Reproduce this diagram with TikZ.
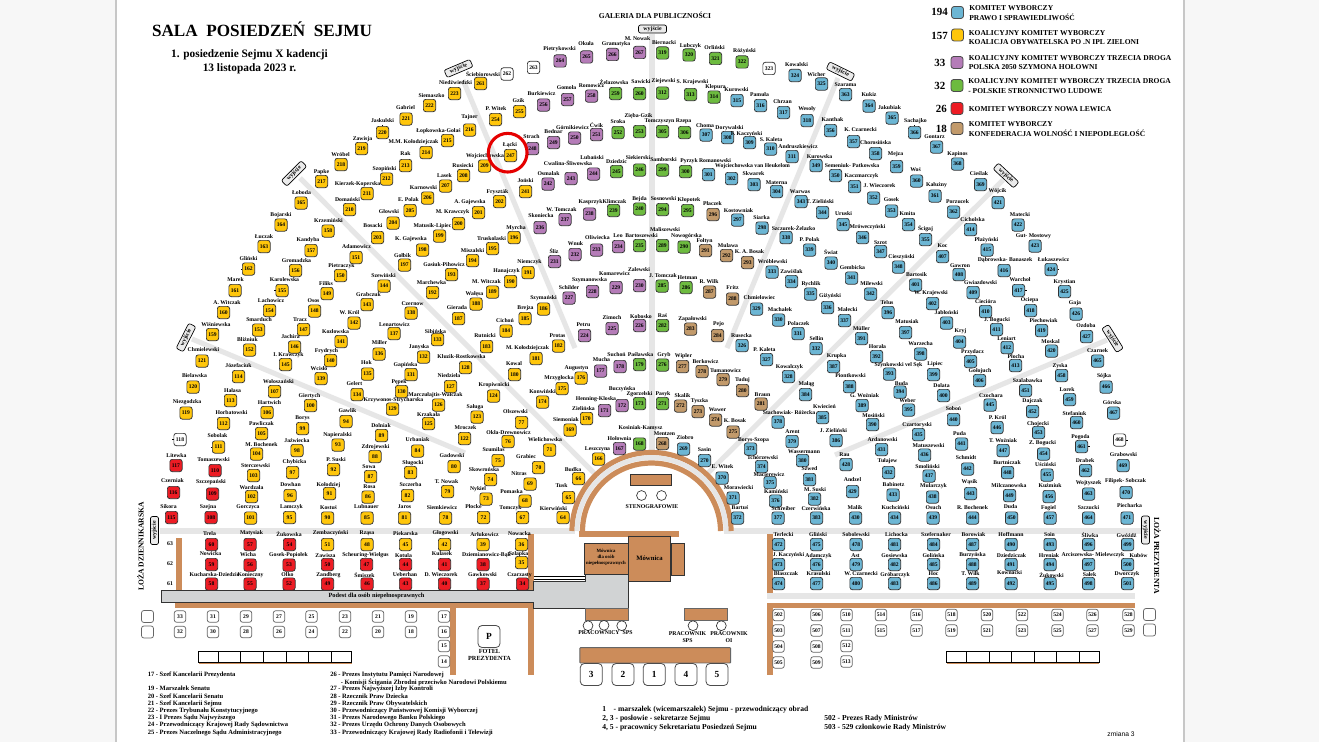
\documentclass[tikz,border=0pt]{standalone}
\usepackage{fontspec}
\setmainfont{Liberation Serif}
\setsansfont{Liberation Sans}
\usetikzlibrary{calc}

\definecolor{pisblue}{HTML}{6CB6D4}
\definecolor{koyellow}{HTML}{FFC60B}
\definecolor{tdpurple}{HTML}{B57CB8}
\definecolor{pslgreen}{HTML}{6DBB3F}
\definecolor{lewred}{HTML}{ED1C24}
\definecolor{konfbrown}{HTML}{C29A6B}
\definecolor{floorbrown}{HTML}{CC8C5A}
\definecolor{aislegrey}{HTML}{E6E6E6}
\definecolor{podestgrey}{HTML}{D1D3D4}

\tikzset{
  seat/.style={draw=black!80,line width=0.55pt,rounded corners=1.8pt,minimum size=9.2pt,inner sep=0pt,font=\fontsize{4.2}{5}\selectfont\bfseries},
  frontseat/.style={seat,fill=white,draw=black!60,minimum size=8.6pt},
  seatname/.style={inner sep=0pt,font=\fontsize{4.3}{5}\selectfont\bfseries},
  legendbox/.style={draw=black!70,line width=0.6pt,rounded corners=2pt,minimum size=9pt,inner sep=0pt},
  legendtext/.style={anchor=west,inner sep=0pt,font=\fontsize{5.65}{7}\selectfont\bfseries},
  legendnum/.style={anchor=east,inner sep=0pt,font=\fontsize{8.2}{9}\selectfont\bfseries},
  tag/.style={draw=black,fill=black!8,line width=0.5pt,rounded corners=1.5pt,minimum width=21pt,minimum height=6pt,inner sep=0pt,font=\fontsize{4.4}{5}\selectfont\bfseries},
  aisle/.style={aislegrey,line width=3.8pt},
  wall/.style={floorbrown,line width=3.9pt},
  furniture/.style={draw=black!80,fill=floorbrown,line width=0.7pt},
  stool/.style={draw=black!80,fill=white,circle,line width=0.5pt,minimum size=7.4pt,inner sep=0pt},
  presidium/.style={draw=black!70,fill=white,line width=0.6pt,rounded corners=3pt,minimum size=16.5pt,inner sep=0pt,font=\fontsize{7}{8}\selectfont\bfseries},
  notes/.style={anchor=west,inner sep=0pt,font=\fontsize{4.9}{6}\selectfont\bfseries},
  notesbig/.style={anchor=west,inner sep=0pt,font=\fontsize{5.7}{7}\selectfont\bfseries},
  stafftext/.style={inner sep=0pt,font=\fontsize{4.35}{5.5}\selectfont\bfseries}
}

\newcommand{\seatgroup}[2]{%
  \foreach \num/\x/\y/\lx/\ly/\name in {#2}{%
    \node[seat,fill=#1] (s\num) at (\x,\y) {\num};
    \node[seatname] (n\num) at (\lx,\ly) {\name};
  }%
}

\begin{document}
\begin{tikzpicture}[x=0.75pt,y=-0.75pt]
\useasboundingbox (0,0) rectangle (1319,742);
% page
\fill[black!3] (0,0) rectangle (1319,742);
\fill[white] (116,0) rectangle (1184,742);
\draw[black!22,line width=0.8pt] (116,0) -- (116,742) (1184,0) -- (1184,742);

% aisles
\draw[aisle] (652,34) -- (652,457);
\draw[aisle] (463,80) -- (575,348);
\draw[aisle] (838,78) -- (727,348);
\draw[aisle] (300,178) -- (596,475);
\draw[aisle] (1003,180) -- (703,478);
\draw[aisle] (192,339) -- (465,453);
\draw[aisle] (1107,340) -- (835,455);
\draw[aisle,line width=4.2pt] (160,531) -- (575,531);
\draw[aisle,line width=4.2pt] (724,531) -- (1141,531);
\draw[aisle,line width=4.2pt] (767,596) -- (1135,596);

% amphitheatre
\draw[floorbrown,line width=3.9pt,domain=0:180,samples=60] plot ({651.5+79.5*cos(\x)},{531-78.5*sin(\x)});
\draw[aislegrey,line width=3.6pt,domain=0:180,samples=60] plot ({651.5+74.5*cos(\x)},{531-73.5*sin(\x)});
\draw[floorbrown,line width=3.9pt,domain=0:180,samples=60] plot ({651.5+69*cos(\x)},{531-68*sin(\x)});
\fill[floorbrown] (578.5,531) rectangle (679,536.5);

% walls
\draw[wall] (179,538) -- (179,590.5);
\draw[wall] (531,534) -- (531,590.5);
\draw[wall] (770,534) -- (770,593);
\draw[wall] (770,603) -- (770,675);
\draw[wall] (453,606) -- (453,675);
\draw[wall] (531,603) -- (531,675);
\draw[wall] (767.5,605.5) -- (1135,605.5);
\draw[wall] (175,605.5) -- (533,605.5);

% podest
\draw[black!80,fill=podestgrey,line width=0.6pt] (161.5,590.5) -- (533.5,590.5) -- (533.5,581.5) -- (585,581.5) -- (585,574.5) -- (628.5,574.5) -- (628.5,608.5) -- (533.5,608.5) -- (533.5,602.5) -- (161.5,602.5) -- cycle;
\fill[floorbrown] (175,602.8) rectangle (533.3,608);
\draw[black,line width=0.6pt] (533.5,576.7) -- (585,576.7) (533.5,579) -- (585,579);
\node[stafftext,font=\fontsize{4.75}{6}\selectfont\bfseries] (podest) at (376.5,596) {Podest dla osób niepełnosprawnych};

% furniture
\node[furniture,minimum width=31pt,minimum height=8.5pt,inner sep=0pt] (steno) at (651,480) {};
\node[stool] (steno1) at (641.5,495.5) {};
\node[stool] (steno2) at (661.5,495.5) {};
\node[stafftext] (stenotext) at (652,507) {STENOGRAFOWIE};
\node[furniture,minimum width=33pt,minimum height=23.5pt,inner sep=0pt] (mow1) at (606.3,559) {};
\node[inner sep=0pt,align=center,font=\fontsize{3.6}{4.5}\selectfont\bfseries] (mow1text) at (606,557.5) {Mównica\\dla osób\\niepełnosprawnych};
\node[furniture,minimum width=32pt,minimum height=34pt,inner sep=0pt,font=\fontsize{5}{6}\selectfont\bfseries] (mow2) at (649.5,558.7) {Mównica};
\node[furniture,minimum width=10pt,minimum height=24.5pt,inner sep=0pt] (mow3) at (678,559.5) {};
\node[furniture,draw=black!60,minimum width=32.5pt,minimum height=9pt,inner sep=0pt] (desk1) at (606.7,614.3) {};
\node[furniture,draw=black!60,minimum width=32.5pt,minimum height=9pt,inner sep=0pt] (desk2) at (706.2,614.3) {};
\node[stool] (staff1) at (588,625.7) {};
\node[stool] (staff2) at (604,625.3) {};
\node[stool] (staff3) at (621.7,625.7) {};
\node[stool] (staff4) at (693,625.7) {};
\node[stool] (staff5) at (721.3,625.7) {};
\node[stafftext] (stafftext1) at (605.5,633) {PRACOWNICY\ \ SPS};
\node[stafftext,align=center] (stafftext2) at (687.5,637) {PRACOWNIK\\SPS};
\node[stafftext,align=center] (stafftext3) at (729,637) {PRACOWNIK\\OI};
\node[furniture,draw=black!60,minimum width=113pt,minimum height=11.5pt,inner sep=0pt,rounded corners=0.5pt] (bench) at (655.2,655.3) {};
\node[presidium] (p3) at (591.3,674.5) {3};
\node[presidium] (p2) at (623,674.5) {2};
\node[presidium] (p1) at (654.3,674.5) {1};
\node[presidium] (p4) at (686,674.5) {4};
\node[presidium] (p5) at (717,674.5) {5};
\node[presidium] (fotel) at (489,636.5) {P};
\node[stafftext,align=center,font=\fontsize{4.7}{5.4}\selectfont\bfseries] (foteltext) at (489.5,655) {FOTEL\\PREZYDENTA};

% seats
\seatgroup{koyellow}{
36/521.5/544.5/519.5/533.5/Nowacka,35/521.5/562.5/518.5/554/Szłapka,39/483/544.5/484.5/535/Arłukowicz,42/444.5/544.5/445.5/533.5/Głogowski,45/405.5/544.5/405.5/533.5/Piekarska,48/367/544.5/367/533/Rząsa,51/327.5/544.5/330.5/533.5/Zembaczyński,
64/563/517.5/553.5/508.5/Kierwiński,65/568.5/497.5/561.5/486/Tusk,66/578.5/478.5/573/470/Budka,67/522.5/517.5/510.5/508/Tomczyk,68/525/501/511.5/492/Pomaska,69/530/484/519/474/Nitras,70/538.5/467.5/526/457/Grabiec,71/549.5/450/545/440/Wielichowska,72/483.5/517.5/473.5/507/Płocke,73/486/499/478/489/Nykiel,74/490.5/479.5/484/470/Skowrońska,75/498/460.5/493.5/450/Szumilas,76/508/441.5/508.5/432.5/Okła-Drewnowicz,77/521.5/422.5/515.5/412/Olszewski,
78/445.5/518/442/508/Siemkiewicz,79/447.5/491.5/446.5/482/T. Nowak,80/454/466.5/452/456/Gadowski,81/404.5/518/404.5/507/Jaros,82/407.5/495.5/410.5/485/Szczerba,83/410.5/472.5/413/463.5/Sługocki,84/417.5/451/417.5/440/Urbaniak,85/367/518/366.5/507/Lubnauer,86/368/497/369.5/487/Rosa,87/370.5/476.5/369/467/Sowa,88/375/456.5/375.5/447/Zdrojewski,89/381.5/435.5/381/425.5/Dolniak,90/327.5/518/328.5/508/Kostuś,91/329.5/493.5/328.5/485/Kołodziej,92/333.5/469.5/336/459.5/P. Suski,93/338/445/337.5/435/Napieralski,94/346/421.5/347.5/411/Gawlik,95/289.5/517.5/291.5/507/Lamczyk,96/290/495.5/290.5/485/Dowhan,97/292.5/472.5/294.5/462/Chybicka,98/297/450.5/297/441/Jaźwiecka,99/302.5/428.5/302.5/418.5/Borys,100/310.5/405.5/309.5/396/Giertych,101/250.5/518/248/507/Gorczyca,102/251.5/496.5/251.5/488/Wardzała,103/253.5/475.5/255.5/466/Sterczewski,104/256.5/454/261.5/444.5/M. Bochenek,105/261.5/433.5/261.5/424/Pawliczak,106/267/412.5/269.5/403/Hartwich,107/274.5/391.5/278.5/382/Wołoszański,
111/218.5/447/217.5/436/Sobolak,112/223.5/423.5/231.5/413/Horbatowski,113/230.5/400.5/232.5/391/Hałasa,114/238.5/376.5/238.5/366/Józefaciuk,119/186/413/187/402.5/Niezgodzka,120/193/387/194.5/376/Bielawska,121/202/361/203.5/350/Chmielewski,
122/464.5/438.5/465.5/428/Mroczek,123/477/417/475/407/Saługa,124/493.5/396/494/385.5/Kropiwnicki,125/428.5/423.5/428.5/415/Krzakała,126/438.5/405/435.5/395/Marczułajtis-Walczak,127/450.5/386.5/449/376/Niedziela,128/465.5/367.5/461.5/357/Kluzik-Rostkowska,129/392.5/409/393.5/400/Krzywonos-Strycharska,130/401.5/391.5/399/382.5/Pępek,131/411/374.5/405.5/365.5/Gapińska,132/423.5/357/419/347.5/Janyska,133/437.5/339.5/435.5/331.5/Sibińska,134/357/394.5/354.5/384/Gelert,135/367.5/374/366.5/362.5/Hok,136/379/354/379.5/343/Miller,137/394/333.5/394.5/324.5/Lenartowicz,138/411/313/412.5/304/Czernow,139/321/378.5/319/368.5/Wcisło,140/330.5/360.5/326.5/351/Frydrych,141/341/341.5/335.5/332/Kozłowska,142/354/323/349.5/313/W. Król,143/367/304.5/368.5/294.5/Grabczuk,144/384/286/383.5/275.5/Szewiński,145/285.5/364.5/288.5/355/I. Krawczyk,146/294.5/347/290.5/337/Jachira,147/303.5/329.5/300/320/Tracz,148/314.5/311/313.5/301/Osos,149/327/293.5/326/283.5/Filiks,150/340.5/275.5/341.5/266/Pietraczyk,151/356/257.5/356.5/247/Adamowicz,152/249.5/350/247.5/339.5/Bliźniuk,153/258.5/330/259/320/Smarduch,154/269.5/310.5/271/301/Lachowicz,155/282/290.5/284.5/280/Karolewska,156/295.5/270.5/296.5/261/Gromadzka,157/311/250.5/308/240.5/Kandyba,158/328/231/328.5/220.5/Krzemiński,159/212.5/334.5/216/325/Wiśniewska,160/223.5/312.5/227/303/A. Witczak,161/235/290.5/235.5/280/Marek,162/248.5/269/248.5/259/Gliński,163/264/246.5/264/237/Łuczak,164/281/225/281/215/Bojarski,165/301/203/301.5/193/Łoboda,
166/598.5/459/597.5/449.5/Leszczyna,169/570/430/566/419.5/Siemoniak,170/586.5/418.5/583.5/409/Zielińska,174/542.5/402/542.5/392/Konwiński,175/562/388.5/559/378/Mrzygłocka,176/581/378/576.5/368.5/Augustyn,180/514.5/374.5/514/364/Kowal,181/536/358.5/527.5/348/M. Kołodziejczak,182/558.5/346/557.5/335.5/Protas,183/486.5/346.5/485/336/Rutnicki,184/506/331/505/321/Cichoń,185/525/318.5/525.5/308.5/Brejza,186/543.5/309/543.5/298.5/Szymański,187/458.5/318.5/457/308/Gierada,188/476/304/474.5/294/Wałęsa,189/492.5/292/486.5/282/M. Witczak,190/510.5/281.5/506.5/271/Hanajczyk,191/528/272.5/529.5/262.5/Niemczyk,192/432.5/292.5/431.5/283/Marchewka,193/451.5/274.5/444/265/Gasiuk-Pihowicz,194/472.5/260.5/472.5/251/Miszalski,195/492.5/248.5/491.5/239/Truskolaski,196/514/237.5/516/228/Myrcha,197/404.5/265/402.5/255.5/Gołbik,198/422.5/250/411/239/K. Gajewska,199/439.5/236/432.5/226/Matusik-Lipiec,200/458.5/223.5/452.5/212.5/M. Krawczyk,201/478.5/212.5/470/202.5/A. Gajewska,202/499.5/201.5/497.5/192.5/Fryszták,203/377.5/237.5/373/226/Bosacki,204/393/223/389/212/Głowski,205/410/210.5/408.5/200/E. Polak,206/427.5/198/423.5/188/Karnowski,207/445.5/186/444.5/176/Lasek,208/463.5/175.5/463/166/Rusiecki,209/484.5/166/485/156/Wojciechowska,210/349.5/209.5/347.5/200/Domański,211/367/193.5/357.5/184/Kierzek-Koperska,212/386.5/179/384.5/169/Szopiński,213/405.5/165.5/405.5/154/Rak,214/426/152.5/413.5/142/M.M. Kołodziejczak,215/447.5/140.5/438.5/131/Łopkowska-Gołaś,216/469.5/130/469.5/117/Tajner,217/321.5/181.5/321.5/172/Papke,218/341/164.5/340.5/155/Wróbel,219/361.5/148.5/362.5/139/Zawisja,220/382.5/132.5/382.5/120.5/Jaskulski,221/406/119/405.5/108/Gabriel,222/429.5/105.5/431.5/96/Siemaszko,223/454.5/93.5/455.5/83/Niedźwiedzki,241/525.5/191.5/525.5/181/Joński,247/510.5/155.5/510/145.5/Łącki,254/495.5/119.5/496/109/P. Witek,255/519.5/111.5/518.5/101/Gzik,261/480.5/83.5/483/74/Ściebiorowski}
\seatgroup{lewred}{
34/522.5/584/519.5/575/Czarzasty,37/483/584/482.5/575/Gawkowski,38/483/564.5/486.5/555/Dziemianowicz-Bąk,40/444.5/584/441/575/D. Wieczorek,41/444.5/564.5/442/554/Kulasek,43/405.5/584/405/575/Ueberhan,44/405.5/564.5/403.5/555.5/Kotula,46/367/584/364.5/575/Śmiszek,47/366.5/564.5/365.5/555.5/Scheuring-Wielgus,49/327.5/584/328.5/575/Zandberg,50/327.5/564.5/325.5/555.5/Zawisza,52/289/584/287.5/575/Olko,53/289/565/288.5/555.5/Gosek-Popiołek,54/289.5/544.5/289/534.5/Żukowska,55/250/584/250.5/575/Konieczny,56/250/565/248/555/Wicha,57/250/544.5/251.5/533.5/Matysiak,58/211.5/584/214.5/574.5/Kucharska-Dziedzic,59/211.5/564.5/210.5/554/Nowicka,60/211.5/544.5/209.5/533.5/Trela,108/211/517.5/208/507/Szejna,109/212.5/494/211/482.5/Szczepański,110/215/470.5/213.5/460/Tomaszewski,115/171.5/517.5/168.5/507/Sikora,116/173.5/492.5/172.5/480.5/Czerniak,117/176/465.5/176.5/455.5/Litewka}
\seatgroup{tdpurple}{
167/619.5/448.5/619.5/438.5/Hołownia,171/604.5/410.5/596/399/Henning-Kloska,172/622/405.5/622/389/Buczyńska,177/600.5/371/601.5/360/Mucha,178/620/366.5/616.5/354.5/Suchoń,224/584.5/335.5/583.5/325/Petru,225/612/328.5/612/318/Zimoch,226/639.5/325.5/641/316.5/Kobosko,227/569/298/569/288/Schilder,228/592.5/291.5/589.5/280/Szymanowska,229/616/287.5/614.5/274/Komarewicz,230/639.5/285.5/639/270/Zalewski,231/554.5/261.5/554/251/Śliz,232/575/254.5/575.5/244/Wnuk,233/596.5/250/597.5/238/Oliwiecka,234/618.5/246.5/618/236/Leo,236/540/227.5/541/216/Skoniecka,237/565/219.5/561.5/210/W. Tomczak,238/589.5/214/590.5/202.5/Kasprzyk,242/548/184/548.5/173.5/Osmalak,243/571/178.5/568/163/Cwalina-Śliwowska,244/593.5/174/592/158/Lubański,248/532.5/148.5/531.5/137/Strach,249/553.5/142.5/553.5/131.5/Bednar,250/574.5/138/572.5/128/Górnikiewicz,251/596.5/134.5/596.5/125/Ćwik,256/543.5/105/541.5/94/Burkiewicz,257/567.5/99.5/566.5/88/Gomoła,258/591.5/96/591.5/86/Romowicz,264/560/61/559.5/49/Pietrykowski,265/586.5/57/586/44/Okuła,266/612.5/54.5/616/44/Gramatyka,267/639.5/52.5/637.5/39/M. Nowak}
\seatgroup{pslgreen}{
168/639.5/444/640.5/428/Kosiniak-Kamysz,173/639.5/403.5/639.5/394.5/Zgorzelski,179/639.5/364.5/640.5/354.5/Paśławska,235/639.5/245.5/641.5/235.5/Bartoszewski,239/613.5/210.5/614.5/201.5/Klimczak,240/639.5/209/639.5/199/Bejda,245/616.5/171.5/616.5/162/Dziedzic,246/639.5/170/638/157.5/Siekierski,252/618/132.5/618/122/Sroka,253/639.5/131.5/638.5/116/Zięba-Gzik,259/615.5/93.5/614/82/Żelazowska,260/639.5/93.5/641/82/Sawicki,271/662.5/403.5/663/394.5/Pasyk,276/662.5/365/664/355/Gryb,282/662.5/325.5/662.5/316/Raś,285/662/286/663/275.5/J. Tomczak,286/686/287.5/687.5/277.5/Hetman,289/662.5/245.5/665/230/Maliszewski,290/684/247/686.5/236/Nowogórska,294/662.5/209.5/663.5/199/Sosnowski,295/687.5/210.5/689/200/Kłopotek,299/662.5/170/663.5/160/Samborski,300/685.5/171.5/689/161.5/Pyrzyk,305/662.5/131.5/659.5/121.5/Tomczyszyn,306/684.5/132.5/683.5/121.5/Rzepa,312/662.5/93/663.5/81/Ziejewski,313/690.5/94.5/692.5/82/S. Krajewski,314/714/97/715.5/87/Klepura,319/662.5/53/664/43/Biernacki,320/689/55/690.5/46/Lubczyk,321/715.5/58.5/714.5/48/Orliński,322/742/62/744.5/51/Różyński}
\seatgroup{konfbrown}{
268/662.5/443.5/664.5/434/Mentzen,272/680.5/406/682.5/396/Skalik,273/698/411.5/699.5/401/Tyszka,274/715.5/420/717.5/409.5/Wawer,275/733/432/735/421/K. Bosak,277/682.5/366.5/683.5/356/Wipler,278/702/371.5/705.5/362/Berkowicz,279/723/379.5/725.5/370.5/Tumanowicz,280/742.5/390.5/742.5/380/Tuduj,281/761/404/762.5/395/Braun,283/690.5/329/692.5/319/Zapałowski,284/717.5/335.5/718.5/324/Pejo,287/709.5/292/709/281.5/R. Wilk,288/732.5/299/732.5/288/Fritz,291/705.5/250.5/704.5/241/Fołtyn,292/726.5/255.5/728/245.5/Mulawa,293/747.5/262.5/749.5/252/K. A. Bosak,296/713/214.5/712.5/204/Płaczek}
\seatgroup{pisblue}{
269/683.5/449/685/438/Ziobro,270/704.5/460.5/704.5/450/Sasin,297/737.5/220/738.5/210.5/Kostowniak,298/762/228/761.5/218/Siarka,301/708.5/174.5/715/161/Romanowski,302/731.5/178.5/752.5/166/Wojciechowska van Heukelom,303/754/184.5/753.5/174/Skwarek,304/776.5/191.5/776.5/182.5/Materna,307/706/135/705/125.5/Choma,308/727.5/137.5/729.5/128/Dorywalski,309/749.5/142.5/746.5/134/F. Kaczyński,310/770.5/149/771/140/S. Kaleta,311/792/156.5/798/147/Andruszkiewicz,315/737/100.5/736.5/90/Kurowski,316/760.5/105.5/759.5/95/Pamuła,317/783.5/112.5/782.5/102/Chrzan,318/807/120.5/807/109.5/Wesoły,324/795/75.5/796.5/65/Kowalski,325/821.5/84/816.5/75/Wicher,
326/742/345.5/741.5/336/Rusecka,327/766.5/359.5/764.5/350/P. Kaleta,328/788.5/376.5/789.5/367/Kowalczyk,329/756.5/309/759.5/298/Chmielowiec,330/778.5/320/780/310/Machałek,331/798/333.5/798.5/324/Polaczek,332/816/348.5/816.5/338.5/Sellin,333/772/272/772.5/262/Wróblewski,334/791.5/281.5/791.5/272/Zawiślak,335/810.5/294/811/284/Rychlik,336/827.5/307.5/830/296/Giżyński,337/844.5/320.5/847.5/310/Małecki,338/786/237.5/793.5/228/Szczurek-Żelazko,339/809.5/250/809.5/240/P. Polak,340/831/263/831/252/Świat,341/851.5/278/852.5/267.5/Gembicka,342/870.5/294/871.5/283.5/Milewski,343/801/201.5/800/191.5/Warwas,344/822.5/212.5/820/202/T. Zieliński,345/843/224.5/843.5/213.5/Uruski,346/862.5/237.5/867.5/227/Mróweczyński,347/880.5/251.5/880.5/242.5/Szrot,348/898.5/267/901.5/257.5/Cieszyński,349/816/165.5/819.5/157/Kurowska,350/835.5/175.5/852/166/Semeniuk- Patkowska,351/854.5/186.5/861.5/176/Kaczmarczyk,352/873.5/198/879.5/186/J. Wieczorek,353/891.5/211/891.5/200/Gosek,354/908.5/224.5/907.5/214/Kmita,355/925.5/239.5/925.5/228.5/Ścigaj,356/830.5/130.5/832.5/120/Kanthak,357/853.5/141.5/860.5/130/K. Czarnecki,358/875.5/153.5/875.5/143/Chorosińska,359/896.5/166.5/895.5/154/Mejza,360/916.5/181/915.5/170/Woś,361/935/196/936.5/185/Kałużny,362/953.5/212/957.5/202/Porzucek,363/845.5/94.5/845.5/85/Szarama,364/869/106/869/95/Kukiz,365/892/118/889.5/108/Jakubiak,366/914.5/132.5/915.5/121.5/Sachajko,367/936.5/147/934.5/137/Gontarz,368/957.5/164/957.5/154.5/Kapinos,369/980.5/184.5/979/174/Cieślak,
370/722/478/722.5/467/E. Witek,371/733/498/738.5/487.5/Morawiecki,372/737.5/518/740/508/Bartuś,373/750.5/449/753.5/440/Borys-Szopa,374/761.5/466.5/762.5/458/Tchórzewski,375/770/482.5/769/475/Macierewicz,376/775.5/501/776/491.5/Kamiński,377/778/518/783.5/508.5/Schreiber,378/778/422/789/413/Stachowiak- Różecka,379/792/441.5/792.5/431.5/Arent,380/802.5/460.5/804/451.5/Wassermann,381/809.5/479.5/809.5/469/Szwed,382/814.5/499/815/489.5/M. Suski,383/816.5/518/816/508.5/Czerwińska,384/805.5/394.5/806.5/384/Małąg,385/822.5/417.5/824.5/406.5/Kwiecień,386/836/440.5/833.5/431/J. Zieliński,387/833.5/366.5/836.5/356.5/Krupka,388/849.5/386.5/850.5/376/Piontkowski,389/862/405.5/864.5/396/G. Woźniak,390/872.5/424.5/873.5/416/Mosiński,391/861.5/338.5/861.5/329/Müller,392/876.5/356.5/877.5/347/Horała,393/889.5/374/898.5/365/Szynkowski vel Sęk,394/900/392/901.5/383.5/Buda,395/908.5/410/907.5/401/Weber,396/888/312.5/887/302.5/Telus,397/905.5/332.5/907/322/Matusiak,398/920.5/354/920.5/344/Warzecha,399/933.5/374.5/935/364/Lipiec,400/943.5/395.5/941.5/385.5/Dolata,401/915.5/285/916.5/275/Bartosik,402/932.5/303.5/931/293.5/W. Krajewski,403/946.5/323/946.5/313/Jabłoński,404/959.5/342/960.5/331/Kryj,405/970.5/361.5/972.5/352.5/Przydacz,406/979.5/380.5/980/371/Gołojuch,407/942.5/256.5/942.5/246/Koc,408/959/274.5/960/265.5/Gawron,409/973/292.5/980.5/283/Gwiazdowski,410/985.5/311.5/985.5/302/Ciecióra,411/996.5/329.5/997/320/J. Bogucki,412/1007/347.5/1006.5/338.5/Leniart,413/1015.5/365.5/1016/357/Płocha,414/970.5/229.5/972.5/220/Cicholska,415/987/250/986.5/240/Płażyński,416/1004/270.5/1005/260/Dąbrowska- Banaszek,417/1018.5/290.5/1020/280/Warchoł,418/1030.5/310.5/1029.5/300/Ociepa,419/1041.5/330.5/1043.5/321/Piechowiak,420/1051.5/351/1050.5/342/Moskal,421/998/202.5/997.5/191.5/Wójcik,422/1018/225/1020/215/Matecki,423/1035/246/1033.5/236/Gut- Mostowy,424/1051/269.5/1053.5/259.5/Łukaszewicz,425/1064.5/291.5/1064.5/282/Krystian,426/1076/314/1075/303/Gaja,427/1086.5/336.5/1086/326/Ozdoba,
428/846/464.5/844.5/455/Rau,429/852.5/491.5/852.5/480/Andzel,430/855.5/518/855/508/Malik,431/881.5/449.5/882.5/440/Ardanowski,432/888.5/472.5/887.5/461.5/Tułajew,433/893/495/893.5/485/Babinetz,434/894.5/518/895.5/508/Kuchciński,435/918.5/434.5/917/425/Czartoryski,436/924.5/455/928.5/446/Matuszewski,437/929/476/927.5/466.5/Smoliński,438/932.5/497/933.5/486.5/Mularczyk,439/933/518/933.5/508/Osuch,440/953.5/419.5/953.5/409/Soboń,441/961.5/444/959.5/434/Puda,442/967.5/469/966/458/Schmidt,443/970.5/493.5/969.5/482.5/Wąsik,444/972.5/518/972.5/508/R. Bochenek,445/990/405/991/396/Czochara,446/997/427.5/997.5/417.5/P. Król,447/1003/450.5/1003/441/T. Woźniak,448/1007.5/472.5/1007/463/Burtniczak,449/1009.5/495.5/1009/486/Milczanowska,450/1011.5/518/1010.5/507/Duda,451/1025.5/390.5/1027.5/381/Szalabawka,452/1032.5/411.5/1032.5/401/Dajczak,453/1038.5/432.5/1038/424/Chojecki,454/1043.5/454/1042.5/443/Z. Bogucki,455/1047/475/1045.5/465/Uściński,456/1049/496.5/1050/486/Kuźmiuk,457/1050/518/1048.5/508/Fogiel,458/1061.5/375.5/1060/366/Zyska,459/1069.5/399.5/1067/390/Lorek,460/1076.5/422.5/1074.5/413.5/Stefaniuk,461/1081.5/446.5/1080.5/437.5/Pogoda,462/1085.5/470.5/1085/460.5/Drabek,463/1088.5/494/1088.5/483.5/Wojtyszek,464/1088.5/518/1088.5/508/Szczucki,465/1097.5/361/1097.5/350.5/Czarnek,466/1106/387/1104/376/Sójka,467/1113.5/413/1112/403/Górska,469/1123/465.5/1123.5/455/Grabowski,470/1126/492.5/1125.5/481.5/Filipek- Sobczak,471/1127/518/1129.5/506/Piecharka,
472/778.5/544.5/783.5/535/Terlecki,473/778.5/564.5/788.5/555.5/J. Kaczyński,474/778.5/583.5/786/574/Błaszczak,475/816.5/544.5/818/535/Gliński,476/816.5/564.5/818.5/556/Adamczyk,477/816.5/583.5/818.5/574/Krasulski,478/856/544.5/856/535/Sobolewski,479/856/564.5/855.5/555.5/Ast,480/856/583.5/861/574/W. Czarnecki,481/894.5/544.5/896.5/535/Lichocka,482/894.5/564.5/894.5/555.5/Gosiewska,483/894.5/583.5/895/575/Gróbarczyk,484/933.5/544.5/936/535/Szefernaker,485/933.5/564.5/933.5/555.5/Golińska,486/933.5/583.5/933.5/574/Hoc,487/972.5/544.5/973.5/535/Borowiak,488/972.5/564.5/972.5/555.5/Burzyńska,489/972.5/583.5/970.5/574/T. Wilk,490/1011/544.5/1011/535/Hoffmann,491/1011/564.5/1011.5/555.5/Dziedziczak,492/1011/583.5/1009.5/573/Kownacki,493/1050/544.5/1049.5/535/Soin,494/1050/564.5/1049/555.5/Hreniak,495/1050/583.5/1051.5/575/Żukowski,496/1088.5/544.5/1090/535/Śliwka,497/1088.5/564.5/1093/555.5/Arciszewska- Mielewczyk,498/1088.5/583.5/1089.5/575/Sałek,499/1127.5/544.5/1126.5/536/Gwóźdź,500/1127.5/564.5/1138.5/555.5/Kubów,501/1127.5/583.5/1127/574/Dworczyk}

% free seats without a name
\foreach \num/\x/\y in {118/180/439.5,262/507/74,263/533.5/67.5,323/769/68.5,468/1119.5/440}{
  \node[seat,fill=white] (s\num) at (\x,\y) {\num};
}

% front rows
\foreach \num/\x/\y in {33/180/616.5,31/213/616.5,29/246/616.5,27/279/616.5,25/311.5/616.5,23/345/616.5,21/378/616.5,19/411/616.5,17/444/616.5,32/180/632,30/213/632,28/246/632,26/279/632,24/311.5/632,22/345/632,20/378/632,18/411/632,16/444/632,15/444/646,14/444/661.5,502/778.5/615,503/778.5/630.5,504/778.5/646.5,505/778.5/662.5,506/816.5/615,507/816.5/630.5,508/816.5/646.5,509/816.5/662.5,510/846.5/615,511/846.5/630.5,512/846.5/646,513/846.5/661.5,514/881/615,515/881/630.5,516/916.5/615,517/916.5/630.5,518/951.5/615,519/951.5/630.5,520/987/615,521/987/630.5,522/1022/615,523/1022/630.5,524/1057.5/615,525/1057.5/630.5,526/1092.5/615,527/1092.5/630.5,528/1128.5/615,529/1128.5/630.5}{
  \node[frontseat] (s\num) at (\x,\y) {\num};
}
\foreach \name/\x/\y in {ea/147.5/616.5,eb/147.5/632,ec/1149.5/614.5,ed/1149.5/630}{
  \node[frontseat,minimum size=9pt] (\name) at (\x,\y) {};
}

% small marks on seats
\foreach \num in {162,155,111,118}{\draw[black,line width=0.5pt] (s\num.west) -- ++(-1.5,0);}
\foreach \num in {424,417,461,468}{\draw[black,line width=0.5pt] (s\num.east) -- ++(1.5,0);}
\foreach \num in {220,366}{\draw[black,line width=0.5pt] (s\num.north) -- ++(0,-1.5);}

% row numbers
\foreach \num/\y in {63/544,62/564,61/584}{
  \node[seatname] (row\num) at (170,\y) {\num};
}

% exits
\node[tag] (exit1) at (652.5,29) {wyjście};
\node[tag,rotate=23] (exit2) at (458.5,68.5) {wyjście};
\node[tag,rotate=45] (exit3) at (294,173.5) {wyjście};
\node[tag,rotate=63] (exit4) at (186,337.5) {wyjście};
\node[tag,rotate=-26] (exit5) at (840.5,71.5) {wyjście};
\node[tag,rotate=-43] (exit6) at (1006,175.5) {wyjście};
\node[tag,rotate=-58] (exit7) at (1112.5,338.5) {wyjście};
\node[tag,rotate=90] (exit8) at (154.5,530.5) {wyjście};
\node[tag,rotate=-90] (exit9) at (1145.5,530) {wyjście};
\node[rotate=90,inner sep=0pt,font=\fontsize{5.7}{7}\selectfont\bfseries] (lozad) at (140.5,546.5) {LOŻA DZIENNIKARSKA};
\node[rotate=-90,inner sep=0pt,font=\fontsize{5.8}{7}\selectfont\bfseries] (lozap) at (1157.5,555.5) {LOŻA PREZYDENTA};

% ministers' tables
\foreach \name/\xa/\xb/\y in {ta/198.5/351.5/651.7,tb/946.7/1099.3/651.7}{
  \fill[floorbrown] (\xa,\y+11) rectangle (\xb,\y+12);
  \draw[black,line width=0.6pt] (\xa,\y) rectangle (\xb,\y+11);
}
\foreach \x in {218.7,240.7,263.7,286.7,308.3,331.3,966.3,989.3,1011.3,1034.3,1056.3,1079.3}{
  \draw[black,line width=0.6pt] (\x,651.7) -- (\x,662.7);
}

% title
\node[inner sep=0pt,font=\fontsize{12.85}{15}\selectfont\bfseries] (title) at (262,29) {SALA\ \ POSIEDZEŃ\ \ SEJMU};
\node[inner sep=0pt,font=\fontsize{8.5}{10}\selectfont\bfseries] (sub1) at (249.5,54.5) {1. posiedzenie Sejmu X kadencji};
\node[inner sep=0pt,font=\fontsize{8.5}{10}\selectfont\bfseries] (sub2) at (249.5,68.5) {13 listopada 2023 r.};
\node[inner sep=0pt,font=\fontsize{5.65}{7}\selectfont\bfseries] (galeria) at (655,15) {GALERIA DLA PUBLICZNOŚCI};

% legend
\node[legendnum] (n194) at (948,12) {194};
\node[legendnum] (n157) at (948,35.5) {157};
\node[legendnum] (n33) at (945.5,62.5) {33};
\node[legendnum] (n32) at (945.5,85.5) {32};
\node[legendnum] (n26) at (947,109) {26};
\node[legendnum] (n18) at (947,128.5) {18};
\node[legendbox,fill=pisblue] (k1) at (957.5,12.5) {};
\node[legendbox,fill=koyellow] (k2) at (957.5,35) {};
\node[legendbox,fill=tdpurple] (k3) at (957,62.5) {};
\node[legendbox,fill=pslgreen] (k4) at (957,85.5) {};
\node[legendbox,fill=lewred] (k5) at (957,108.5) {};
\node[legendbox,fill=konfbrown] (k6) at (957,128.5) {};
\node[legendtext] (t1a) at (969,8) {KOMITET WYBORCZY};
\node[legendtext] (t1b) at (969,17) {PRAWO I SPRAWIEDLIWOŚĆ};
\node[legendtext] (t2a) at (968.5,33) {KOALICYJNY KOMITET WYBORCZY};
\node[legendtext] (t2b) at (968.5,42) {KOALICJA OBYWATELSKA PO .N IPL ZIELONI};
\node[legendtext] (t3a) at (968.5,58) {KOALICYJNY KOMITET WYBORCZY TRZECIA DROGA};
\node[legendtext] (t3b) at (968.5,67) {POLSKA 2050 SZYMONA HOŁOWNI};
\node[legendtext] (t4a) at (968,81) {KOALICYJNY KOMITET WYBORCZY TRZECIA DROGA};
\node[legendtext] (t4b) at (968,91) {- POLSKIE STRONNICTWO LUDOWE};
\node[legendtext] (t5a) at (968.5,109) {KOMITET WYBORCZY NOWA LEWICA};
\node[legendtext] (t6a) at (968.5,124) {KOMITET WYBORCZY};
\node[legendtext] (t6b) at (968.5,133) {KONFEDERACJA WOLNOŚĆ I NIEPODLEGŁOŚĆ};

% highlighted seat
\draw[red!90!black,line width=2.3pt] (507.7,152.7) circle[radius=14.5pt];

% notes
\foreach \y/\txt in {675/17 - Szef Kancelarii Prezydenta,688.7/19 - Marszałek Senatu,696/20 - Szef Kancelarii Senatu,703.7/21 - Szef Kancelarii Sejmu,710.7/22 - Prezes Trybunału Konstytucyjnego,717.7/23 - I Prezes Sądu Najwyższego,725/24 - Przewodniczący Krajowej Rady Sądownictwa,733/25 - Prezes Naczelnego Sądu Administracyjnego}{
  \node[notes] at (147.5,\y) {\txt};
}
\foreach \y/\txt in {675/26 - Prezes Instytutu Pamięci Narodowej,689/27 - Prezes Najwyższej Izby Kontroli,696/28 - Rzecznik Praw Dziecka,703.7/29 - Rzecznik Praw Obywatelskich,710.7/30 - Przewodniczący Państwowej Komisji Wyborczej,717.7/31 - Prezes Narodowego Banku Polskiego,725/32 - Prezes Urzędu Ochrony Danych Osobowych,733/33 - Przewodniczący Krajowej Rady Radiofonii i Telewizji}{
  \node[notes] at (330,\y) {\txt};
}
\node[notes] (note26b) at (340.5,682) {- Komisji Ścigania Zbrodni przeciwko Narodowi Polskiemu};
\node[notesbig] (note1) at (602,710) {1\ \ \ \ - marszałek (wicemarszałek) Sejmu - przewodniczący obrad};
\node[notesbig] (note2) at (602,718.5) {2, 3 - posłowie - sekretarze Sejmu};
\node[notesbig] (note3) at (602,727.5) {4, 5 - pracownicy Sekretariatu Posiedzeń Sejmu};
\node[notesbig] (note4) at (824,718.5) {502 - Prezes Rady Ministrów};
\node[notesbig] (note5) at (824,727.5) {503 - 529 członkowie Rady Ministrów};
\node[inner sep=0pt,font=\fontsize{5}{6}\sffamily\selectfont] (zmiana) at (1121,734.5) {zmiana 3};
\end{tikzpicture}
\end{document}
